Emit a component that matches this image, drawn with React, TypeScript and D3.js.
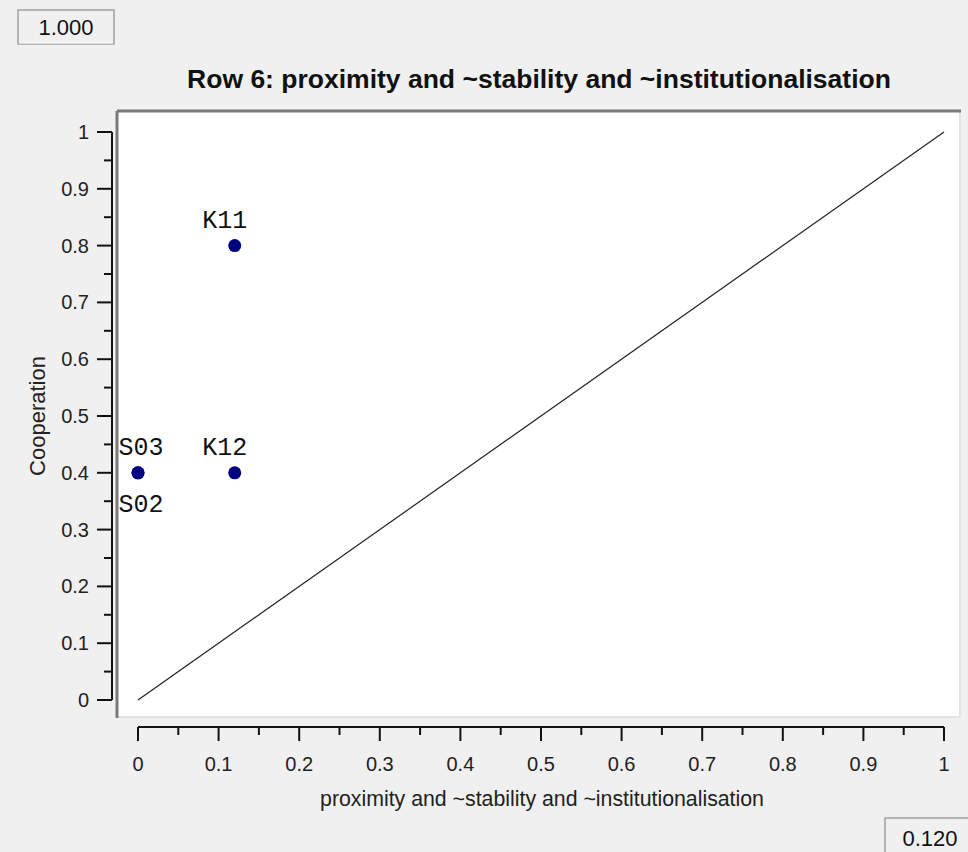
import * as React from "react";
import { scaleLinear, range } from "d3";

const W = 968;
const H = 852;

const caseNames = ["K11", "K12", "S03", "S02"];
const xValues = [0.12, 0.12, 0, 0];
const yValues = [0.8, 0.4, 0.4, 0.4];
const labelSide = ["above", "above", "above", "below"];

const majorTicks = range(0, 11).map((i) => i / 10);
const minorTicks = range(0, 10).map((i) => i / 10 + 0.05);
const tickLabel = (v: number) => (v === 0 ? "0" : v === 1 ? "1" : v.toFixed(1));

const title = "Row 6: proximity and ~stability and ~institutionalisation";
const xTitle = "proximity and ~stability and ~institutionalisation";
const yTitle = "Cooperation";
const topBoxText = "1.000";
const bottomBoxText = "0.120";

const sans = "'Liberation Sans', Arial, sans-serif";
const mono = "'Liberation Mono', 'Courier New', monospace";

function ValueBox(props: { x: number; y: number; w: number; h: number; text: string }) {
  const { x, y, w, h, text } = props;
  return (
    <g>
      <rect x={x} y={y} width={w} height={h} fill="#f0f0f0" stroke="#a0a0a0" strokeWidth={1.5} />
      <line x1={x + 1} y1={y + h - 1} x2={x + w - 1} y2={y + h - 1} stroke="#fff" strokeWidth={1} />
      <text x={x + w / 2} y={y + h / 2 + 8} textAnchor="middle" fontFamily={sans} fontSize={22} fill="#111">
        {text}
      </text>
    </g>
  );
}

export default function App() {
  const plot = { left: 118, top: 111, right: 960, bottom: 717 };
  const sx = scaleLinear().domain([0, 1]).range([138, 944]);
  const sy = scaleLinear().domain([0, 1]).range([700, 132]);
  const yAxisX = 112;
  const xAxisY = 727;

  return (
    <div style={{ position: "fixed", left: 0, top: 0 }}>
      <svg width={W} height={H} style={{ display: "block" }}>
        <rect x={0} y={0} width={W} height={H} fill="#f0f0f0" />

        <ValueBox x={18} y={10} w={96} h={34} text={topBoxText} />
        <ValueBox x={885} y={818} w={90} h={40} text={bottomBoxText} />

        <text x={(plot.left + plot.right) / 2} y={88} textAnchor="middle" fontFamily={sans}
          fontWeight="bold" fontSize={26.5} fill="#111">
          {title}
        </text>

        {/* plot frame */}
        <rect x={plot.left} y={plot.top} width={plot.right - plot.left} height={plot.bottom - plot.top}
          fill="#fff" />
        <line x1={plot.right} y1={plot.top} x2={plot.right} y2={plot.bottom} stroke="#e3e3e3" strokeWidth={2} />
        <line x1={plot.left} y1={plot.bottom} x2={plot.right} y2={plot.bottom} stroke="#e3e3e3" strokeWidth={2} />
        <line x1={plot.left - 1} y1={plot.top} x2={plot.right + 1} y2={plot.top} stroke="#7a7a7a" strokeWidth={3} />
        <line x1={plot.left - 1} y1={plot.top} x2={plot.left - 1} y2={plot.bottom + 1} stroke="#7a7a7a" strokeWidth={3} />

        {/* diagonal */}
        <line x1={sx(0)} y1={sy(0)} x2={sx(1)} y2={sy(1)} stroke="#222" strokeWidth={1.2} />

        {/* y axis */}
        <line x1={yAxisX} y1={sy(1)} x2={yAxisX} y2={sy(0)} stroke="#111" strokeWidth={2} />
        {majorTicks.map((t) => (
          <g key={`ym-${t}`}>
            <line x1={yAxisX - 15} x2={yAxisX} y1={sy(t)} y2={sy(t)} stroke="#111" strokeWidth={2} />
            <text x={89} y={sy(t) + 7} textAnchor="end" fontFamily={sans} fontSize={20} fill="#222">
              {tickLabel(t)}
            </text>
          </g>
        ))}
        {minorTicks.map((t) => (
          <line key={`yn-${t}`} x1={yAxisX - 8} x2={yAxisX} y1={sy(t)} y2={sy(t)} stroke="#111" strokeWidth={2} />
        ))}

        {/* x axis */}
        <line x1={sx(0)} y1={xAxisY} x2={sx(1)} y2={xAxisY} stroke="#111" strokeWidth={2} />
        {majorTicks.map((t) => (
          <g key={`xm-${t}`}>
            <line x1={sx(t)} x2={sx(t)} y1={xAxisY} y2={xAxisY + 14} stroke="#111" strokeWidth={2} />
            <text x={sx(t)} y={771} textAnchor="middle" fontFamily={sans} fontSize={20} fill="#222">
              {tickLabel(t)}
            </text>
          </g>
        ))}
        {minorTicks.map((t) => (
          <line key={`xn-${t}`} x1={sx(t)} x2={sx(t)} y1={xAxisY} y2={xAxisY + 8} stroke="#111" strokeWidth={2} />
        ))}

        <text x={542} y={806} textAnchor="middle" fontFamily={sans} fontSize={21.3} fill="#222">
          {xTitle}
        </text>
        <text transform={`translate(45, ${(sy(0) + sy(1)) / 2}) rotate(-90)`} textAnchor="middle"
          fontFamily={sans} fontSize={22} fill="#222">
          {yTitle}
        </text>

        {/* points */}
        {caseNames.map((name, i) => {
          const cx = sx(xValues[i]);
          const cy = sy(yValues[i]);
          const lx = Math.max(cx - 10, plot.left + 23);
          const ly = labelSide[i] === "above" ? cy - 18 : cy + 39;
          return (
            <g key={name}>
              <circle cx={cx} cy={cy} r={6.5} fill="#000080" />
              <text x={lx} y={ly} textAnchor="middle" fontFamily={mono} fontSize={25} fill="#111">
                {name}
              </text>
            </g>
          );
        })}
      </svg>
    </div>
  );
}
